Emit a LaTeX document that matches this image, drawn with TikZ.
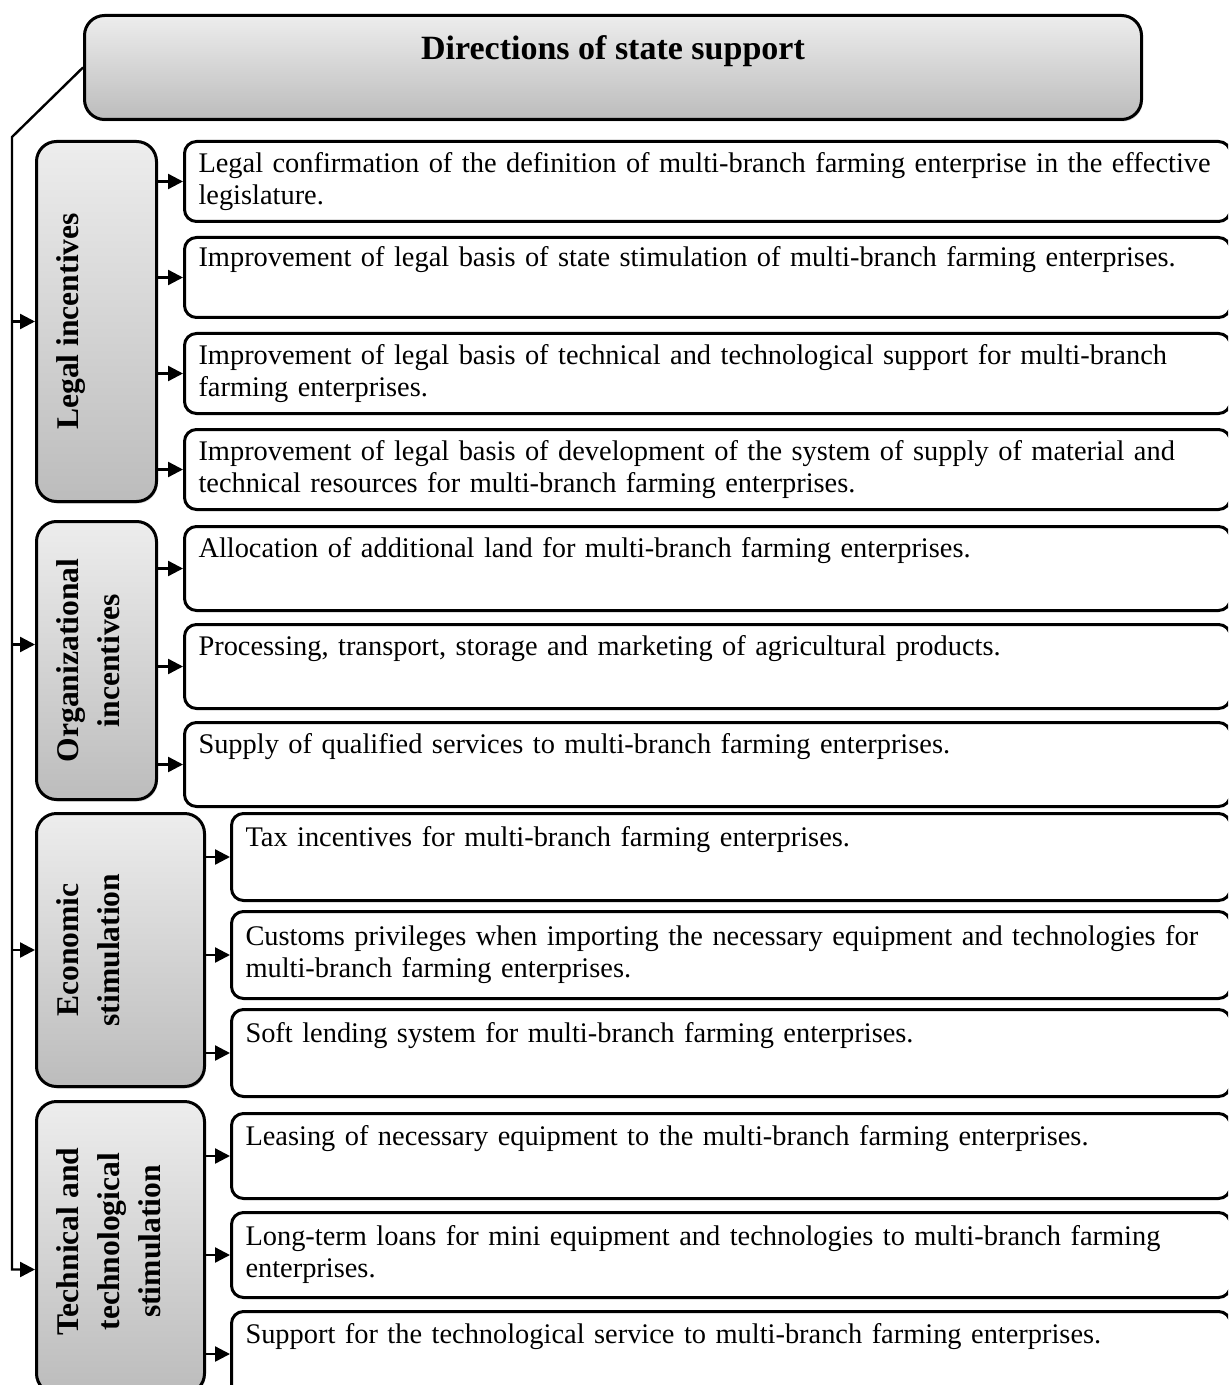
\documentclass[tikz,border=0pt]{standalone}
\usepackage{fontspec}
\setmainfont{Liberation Serif}
\usepackage{tikz}
\usetikzlibrary{arrows.meta,positioning,shadows}
\definecolor{shadetop}{RGB}{237,237,237}
\definecolor{shadebot}{RGB}{188,188,188}

\begin{document}
\begin{tikzpicture}[->,>={Triangle[length=7.5pt,width=7.5pt]},line width=1.2pt,
font=\fontsize{14.2}{16}\selectfont]

\tikzstyle{headbox}=[rectangle, rounded corners=10pt, draw, line width=1.5pt,
top color=shadetop, bottom color=shadebot, anchor=north west, align=center,
drop shadow={shadow xshift=0.6pt, shadow yshift=-1pt, fill=black!35},
font=\bfseries\fontsize{17}{20}\selectfont, inner sep=2pt]

\tikzstyle{groupbox}=[rectangle, rounded corners=10pt, draw, line width=1.5pt,
top color=shadetop, bottom color=shadebot, anchor=north west,
drop shadow={shadow xshift=0.6pt, shadow yshift=-1pt, fill=black!35}]

\tikzstyle{groupname}=[rotate=90, anchor=north, align=center, inner sep=0pt,
font=\bfseries\fontsize{15.8}{20.5}\selectfont]

\tikzstyle{itembox}=[rectangle, rounded corners=6pt, draw, line width=1.5pt,
fill=white, align=left, inner xsep=7pt, inner ysep=2pt, text width=509pt,
execute at begin node={\hyphenpenalty=10000}]

\tikzstyle{itemboxb}=[itembox, text width=485.5pt]

\useasboundingbox (0,0) rectangle (614pt,-692.5pt);
\clip (0,0) rectangle (614pt,-692.5pt);

%headline
\node[headbox, minimum width=528.5pt, minimum height=52pt]
(head) at (41.5pt,-7pt)
{Directions of state support\\[-6pt]\strut};

%groups
\node[groupbox, minimum width=60pt, minimum height=180pt]
(legal) at (17.5pt,-70pt) {};
\node[groupname] (legal-t) at ([xshift=10pt]legal.west)
{Legal incentives};

\node[groupbox, minimum width=60pt, minimum height=139pt]
(org) at (17.5pt,-260pt) {};
\node[groupname] (org-t) at ([xshift=10pt]org.west)
{Organizational\\incentives};

\node[groupbox, minimum width=84pt, minimum height=136.5pt]
(econ) at (17.5pt,-406pt) {};
\node[groupname] (econ-t) at ([xshift=10pt]econ.west)
{Economic\\stimulation};

\node[groupbox, minimum width=84pt, minimum height=146pt]
(tech) at (17.5pt,-550pt) {};
\node[groupname] (tech-t) at ([xshift=10pt,yshift=3pt]tech.west)
{Technical and\\technological\\stimulation};

%legal incentives
\node[itembox, minimum height=40pt, anchor=north west]
(l1) at ([xshift=12.5pt]legal.north east)
{Legal confirmation of the definition of multi-branch farming enterprise in the effective\\legislature.};

\node[itembox, minimum height=40pt, below=6.5pt of l1]
(l2)
{Improvement of legal basis of state stimulation of multi-branch farming enterprises.\\\strut};

\node[itembox, minimum height=40pt, below=6.5pt of l2]
(l3)
{Improvement of legal basis of technical and technological support for multi-branch\\farming enterprises.};

\node[itembox, minimum height=40pt, below=6.5pt of l3]
(l4)
{Improvement of legal basis of development of the system of supply of material and\\technical resources for multi-branch farming enterprises.};

%organizational incentives
\node[itembox, minimum height=42pt, anchor=north west]
(o1) at ([xshift=12.5pt,yshift=-2.5pt]org.north east)
{Allocation of additional land for multi-branch farming enterprises.\\\strut};

\node[itembox, minimum height=42pt, below=5.5pt of o1]
(o2)
{Processing, transport, storage and marketing of agricultural products.\\\strut};

\node[itembox, minimum height=42pt, below=5.5pt of o2]
(o3)
{Supply of qualified services to multi-branch farming enterprises.\\\strut};

%economic stimulation
\node[itemboxb, minimum height=43.5pt, anchor=north west]
(e1) at ([xshift=12pt]econ.north east)
{Tax incentives for multi-branch farming enterprises.\\\strut};

\node[itemboxb, minimum height=43.5pt, below=4pt of e1]
(e2)
{Customs privileges when importing the necessary equipment and technologies for\\multi-branch farming enterprises.};

\node[itemboxb, minimum height=43.5pt, below=4pt of e2]
(e3)
{Soft lending system for multi-branch farming enterprises.\\\strut};

%technical and technological stimulation
\node[itemboxb, minimum height=42.5pt, anchor=north west]
(t1) at ([xshift=12pt,yshift=-6pt]tech.north east)
{Leasing of necessary equipment to the multi-branch farming enterprises.\\\strut};

\node[itemboxb, minimum height=42.5pt, below=5.5pt of t1]
(t2)
{Long-term loans for mini equipment and technologies to multi-branch farming\\enterprises.};

\node[itemboxb, minimum height=42.5pt, below=5.5pt of t2]
(t3)
{Support for the technological service to multi-branch farming enterprises.\\\strut};

%trunk
\coordinate (bend) at (6pt,-68.5pt);
\draw (head.west) -- (bend) |- ([yshift=-11pt]tech.west);
\path[->] (bend |- legal.west) edge (legal.west);
\path[->] ([yshift=8pt]org.west -| bend) edge ([yshift=8pt]org.west);
\path[->] (bend |- econ.west) edge (econ.west);

%branches
\path[->] (legal.east |- l1.west) edge (l1.west);
\path[->] (legal.east |- l2.west) edge (l2.west);
\path[->] (legal.east |- l3.west) edge (l3.west);
\path[->] (legal.east |- l4.west) edge (l4.west);
\path[->] (org.east |- o1.west) edge (o1.west);
\path[->] (org.east |- o2.west) edge (o2.west);
\path[->] (org.east |- o3.west) edge (o3.west);
\path[->] (econ.east |- e1.west) edge (e1.west);
\path[->] (econ.east |- e2.west) edge (e2.west);
\path[->] (econ.east |- e3.west) edge (e3.west);
\path[->] (tech.east |- t1.west) edge (t1.west);
\path[->] (tech.east |- t2.west) edge (t2.west);
\path[->] (tech.east |- t3.west) edge (t3.west);

\end{tikzpicture}
\end{document}
